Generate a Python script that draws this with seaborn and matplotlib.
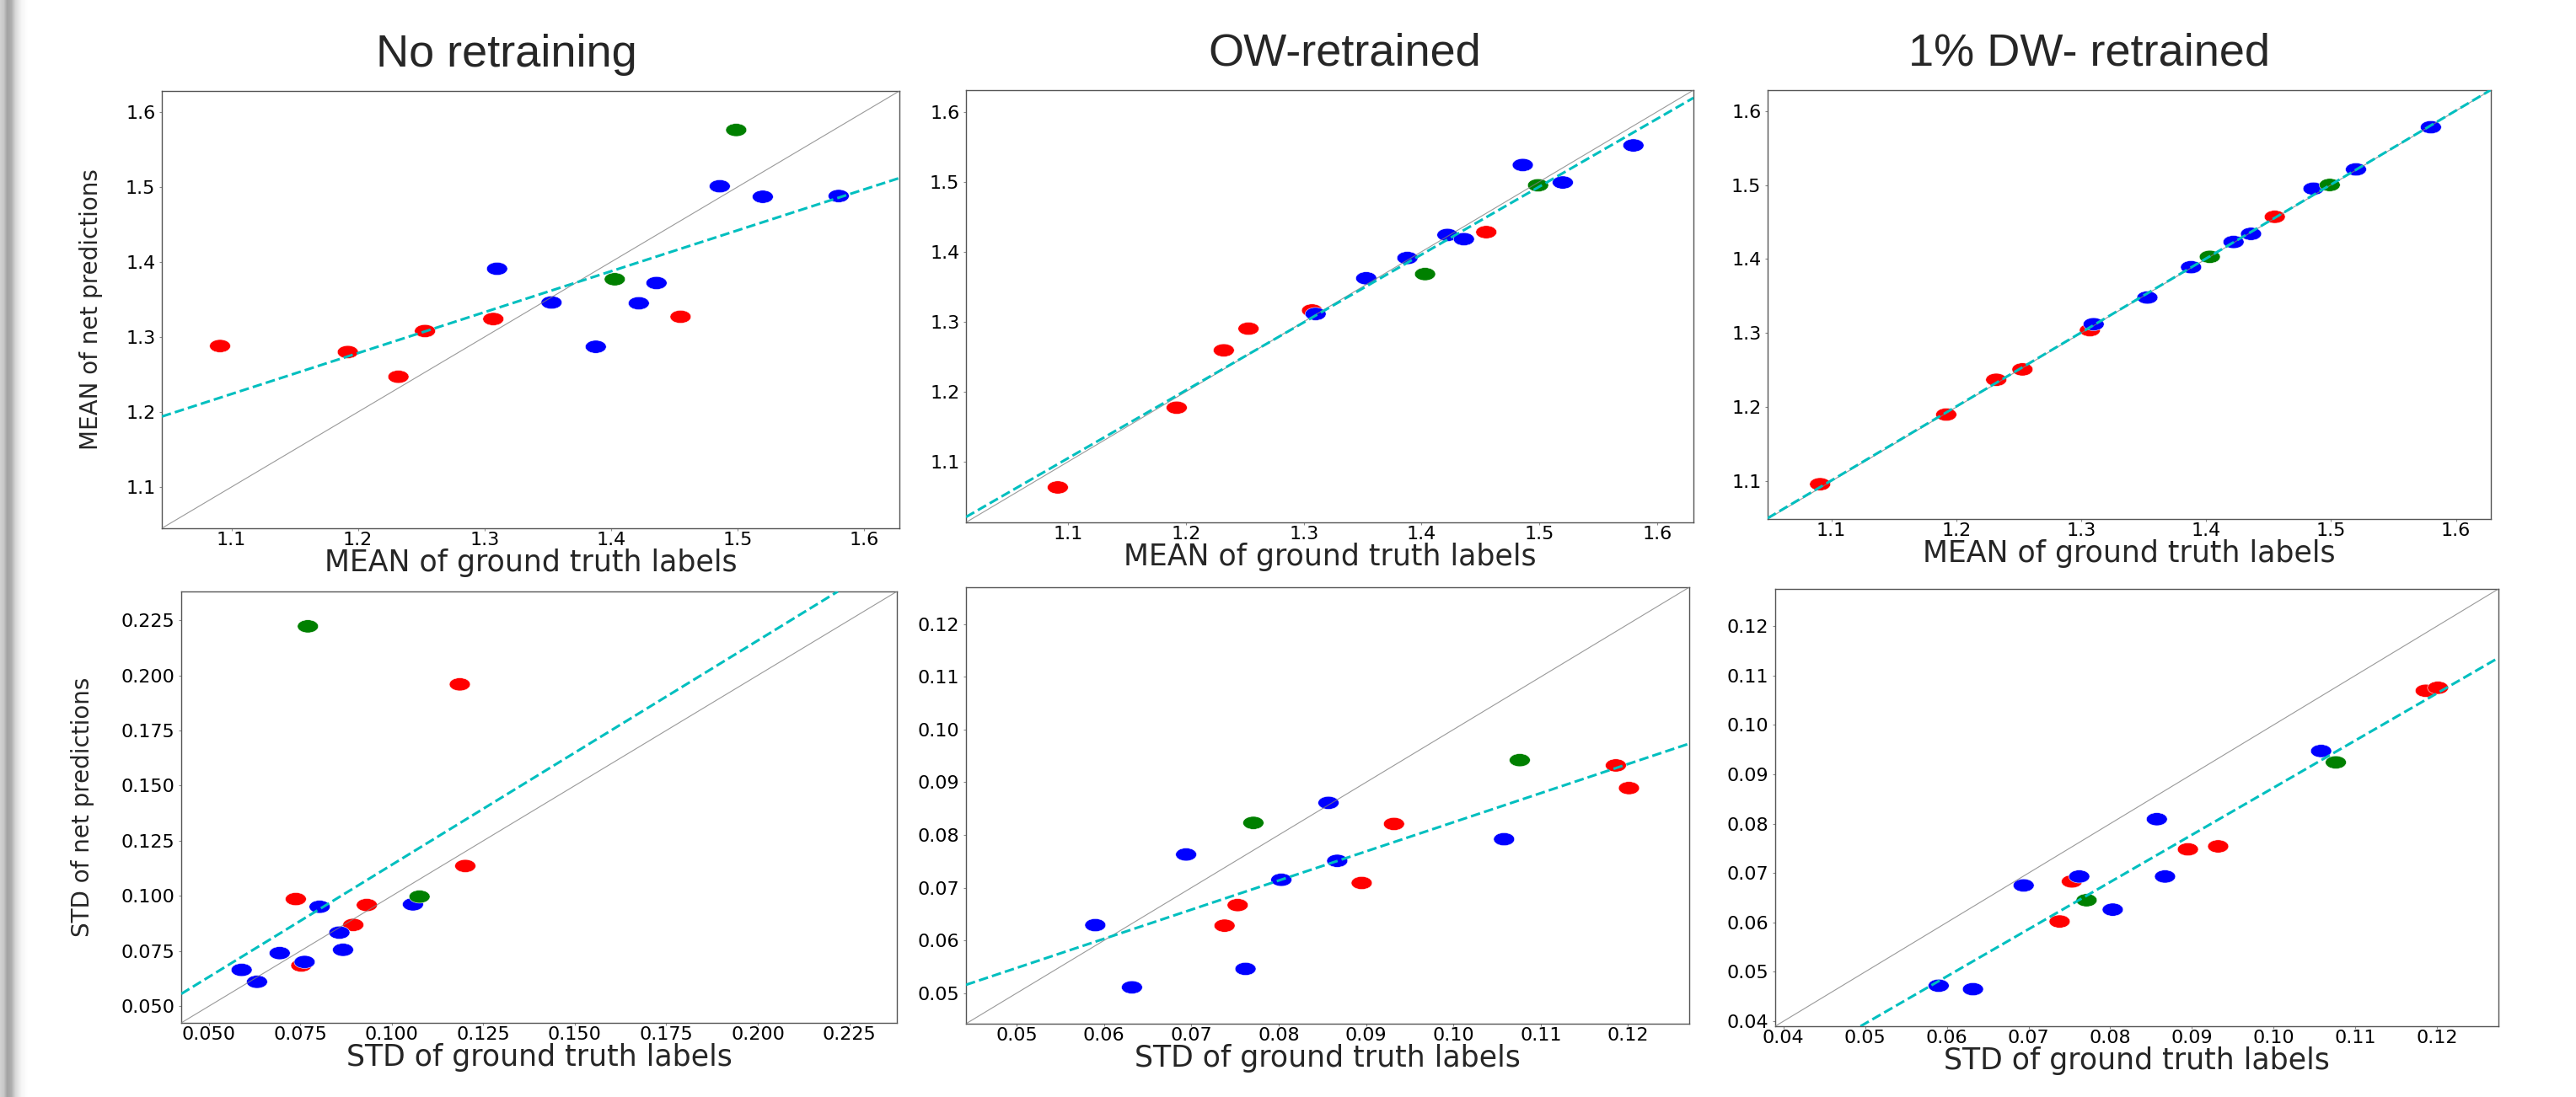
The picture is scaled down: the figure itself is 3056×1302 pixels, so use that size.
import numpy as np
import pandas as pd
import matplotlib
matplotlib.use('Agg')
import matplotlib.pyplot as plt
import seaborn as sns
from matplotlib.path import Path
from matplotlib.ticker import MultipleLocator, FormatStrFormatter

# ---- data ----
groups = ['red', 'blue', 'green']

# MEAN: ground truth labels
red_mean_gt = [1.091, 1.192, 1.232, 1.253, 1.307, 1.455]
blue_mean_gt = [1.310, 1.353, 1.388, 1.422, 1.436, 1.486, 1.520, 1.580]
green_mean_gt = [1.403, 1.499]
# MEAN: net predictions
red_mean_none = [1.288, 1.280, 1.247, 1.308, 1.324, 1.327]
blue_mean_none = [1.391, 1.346, 1.287, 1.345, 1.372, 1.501, 1.487, 1.488]
green_mean_none = [1.377, 1.576]
red_mean_ow = [1.063, 1.177, 1.259, 1.290, 1.316, 1.428]
blue_mean_ow = [1.311, 1.362, 1.391, 1.424, 1.418, 1.524, 1.499, 1.552]
green_mean_ow = [1.368, 1.495]
red_mean_dw = [1.096, 1.190, 1.237, 1.251, 1.304, 1.457]
blue_mean_dw = [1.312, 1.348, 1.389, 1.423, 1.434, 1.495, 1.521, 1.578]
green_mean_dw = [1.403, 1.500]

# STD: ground truth labels
red_std_gt = [0.0738, 0.0753, 0.0895, 0.0932, 0.1186, 0.1201]
blue_std_gt = [0.0590, 0.0632, 0.0694, 0.0762, 0.0803, 0.0857, 0.0867, 0.1058]
green_std_gt = [0.0771, 0.1076]
# STD: net predictions
red_std_none = [0.0986, 0.0685, 0.0869, 0.0959, 0.1959, 0.1136]
blue_std_none = [0.0665, 0.0611, 0.0741, 0.0701, 0.0951, 0.0834, 0.0756, 0.0962]
green_std_none = [0.2222, 0.0997]
red_std_ow = [0.0628, 0.0667, 0.0709, 0.0821, 0.0932, 0.0889]
blue_std_ow = [0.0629, 0.0511, 0.0763, 0.0546, 0.0715, 0.0861, 0.0751, 0.0792]
green_std_ow = [0.0823, 0.0942]
red_std_dw = [0.0602, 0.0683, 0.0748, 0.0754, 0.1069, 0.1075]
blue_std_dw = [0.0472, 0.0465, 0.0675, 0.0693, 0.0626, 0.0809, 0.0693, 0.0947]
green_std_dw = [0.0645, 0.0924]

titles = ['No retraining', 'OW-retrained', '1% DW- retrained']
mean_xlabel = 'MEAN of ground truth labels'
mean_ylabel = 'MEAN of net predictions'
std_xlabel = 'STD of ground truth labels'
std_ylabel = 'STD of net predictions'


def make_df(gt, pred):
    rows = []
    for g, xs, ys in zip(groups, gt, pred):
        for x, y in zip(xs, ys):
            rows.append({'gt': x, 'pred': y, 'group': g})
    return pd.DataFrame(rows)


mean_gt = (red_mean_gt, blue_mean_gt, green_mean_gt)
std_gt = (red_std_gt, blue_std_gt, green_std_gt)

# ---- layout (pixel boxes: left, top, right, bottom) ----
W, H = 3056, 1302
sns.set_style('ticks')
plt.rcParams['font.family'] = ['DejaVu Sans']

fig = plt.figure(figsize=(W / 100, H / 100), dpi=100)
fig.patch.set_facecolor('white')

# slide shadow at the left edge
shade = fig.add_axes([0, 0, 34 / W, 1])
px = np.arange(34)
grey = np.interp(px, [0, 4, 8, 13, 18, 25, 33], [0.82, 0.78, 0.64, 0.68, 0.85, 0.96, 1.0])
shade.imshow(grey[None, :], cmap='gray', vmin=0, vmax=1, aspect='auto')
shade.axis('off')

panels = [
    dict(box=(192, 108, 1067, 627), df=make_df(mean_gt, (red_mean_none, blue_mean_none, green_mean_none)),
         lim=(1.045, 1.628), step=0.1, fmt='%.1f', xlabel=mean_xlabel, ylabel=mean_ylabel, yl_x=108),
    dict(box=(1146, 107, 2009, 620), df=make_df(mean_gt, (red_mean_ow, blue_mean_ow, green_mean_ow)),
         lim=(1.013, 1.631), step=0.1, fmt='%.1f', xlabel=mean_xlabel, ylabel=None),
    dict(box=(2097, 107, 2955, 616), df=make_df(mean_gt, (red_mean_dw, blue_mean_dw, green_mean_dw)),
         lim=(1.049, 1.628), step=0.1, fmt='%.1f', xlabel=mean_xlabel, ylabel=None),
    dict(box=(215, 702, 1064, 1214), df=make_df(std_gt, (red_std_none, blue_std_none, green_std_none)),
         lim=(0.0425, 0.238), step=0.025, fmt='%.3f', xlabel=std_xlabel, ylabel=std_ylabel, yl_x=98),
    dict(box=(1146, 697, 2004, 1215), df=make_df(std_gt, (red_std_ow, blue_std_ow, green_std_ow)),
         lim=(0.0442, 0.127), step=0.01, fmt='%.2f', xlabel=std_xlabel, ylabel=None),
    dict(box=(2106, 699, 2964, 1218), df=make_df(std_gt, (red_std_dw, blue_std_dw, green_std_dw)),
         lim=(0.039, 0.1275), step=0.01, fmt='%.2f', xlabel=std_xlabel, ylabel=None),
]

# horizontally stretched dots, as in the reference
circ = Path.unit_circle()
ellipse = Path(circ.vertices * np.array([1.0, 0.62]), circ.codes)
palette = {'red': 'red', 'blue': 'blue', 'green': 'green'}

for p in panels:
    l, t, r, b = p['box']
    ax = fig.add_axes([l / W, 1 - b / H, (r - l) / W, (b - t) / H])
    df = p['df']
    sns.scatterplot(data=df, x='gt', y='pred', hue='group', hue_order=groups, palette=palette,
                    marker=ellipse, s=320, linewidth=0.4, edgecolor='white', legend=False,
                    ax=ax, zorder=2)
    lo, hi = p['lim']
    ax.set_xlim(lo, hi)
    ax.set_ylim(lo, hi)
    # identity line
    ax.axline((lo, lo), slope=1, color='grey', lw=0.8, alpha=0.8, zorder=3)
    # linear fit
    m, c = np.polyfit(df['gt'], df['pred'], 1)
    ax.axline((0, c), slope=m, color='c', lw=2.2, ls='--', zorder=4)

    ax.xaxis.set_major_locator(MultipleLocator(p['step']))
    ax.yaxis.set_major_locator(MultipleLocator(p['step']))
    ax.xaxis.set_major_formatter(FormatStrFormatter(p['fmt']))
    ax.yaxis.set_major_formatter(FormatStrFormatter(p['fmt']))
    ax.tick_params(axis='both', labelsize=16, length=2.5, width=0.8, color='#888888', labelcolor='black')
    ax.tick_params(axis='x', pad=0.3)
    ax.tick_params(axis='y', pad=3)
    for sp in ax.spines.values():
        sp.set_color('#555555')
        sp.set_linewidth(1.0)

    ax.set_xlabel(p['xlabel'], fontsize=25, labelpad=0)
    if p['ylabel']:
        ax.set_ylabel(p['ylabel'], fontsize=20)
        ax.yaxis.set_label_coords((p['yl_x'] - l) / (r - l), 0.5)
        ax.yaxis.label.set_va('center')
    else:
        ax.set_ylabel('')

# column titles
for txt, (cx, cy) in zip(titles, [(601, 65), (1595, 64), (2478, 64)]):
    fig.text(cx / W, 1 - cy / H, txt, ha='center', va='center', fontsize=39,
             family=['Liberation Sans', 'DejaVu Sans'])

fig.savefig('out.png', dpi=100)
